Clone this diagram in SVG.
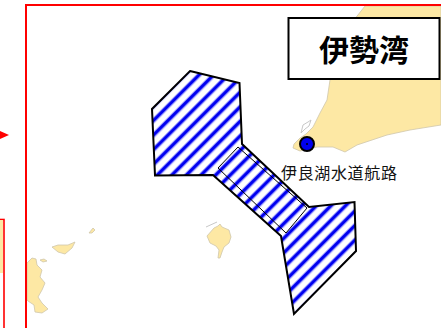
<svg xmlns="http://www.w3.org/2000/svg" width="441" height="328" viewBox="0 0 441 328">
<style>
.land{fill:#fde8a4;stroke:#cfc7ac;stroke-width:.8;stroke-linejoin:round}
.shore{fill:#fff;stroke:#c8c8c8;stroke-width:1}
.jp{font-family:"Noto Sans CJK JP","Liberation Sans",sans-serif}
</style>
<defs>
<pattern id="st" width="10.32" height="10.32" patternUnits="userSpaceOnUse" patternTransform="translate(155 115.460) rotate(-45)">
<rect width="10.32" height="10.32" fill="#fff"/>
<rect y="0" width="10.32" height="5" fill="#a8a8ff"/>
<rect y="1" width="10.32" height="3" fill="#0000f0"/>
</pattern>
</defs>
<rect width="441" height="328" fill="#fff"/>
<g id="land">
<path class="land" d="M365 6H441V125L410 130L387 135L357 145L345 152L333 147L317 147L300 151L293 148L294 144L300 138L306 134L313 127L320 113L327 100L330 80L350 25Z"/>
<path class="shore" d="M301 133L303 125L308 122L311 120L309 126L305 129Z"/>
<path class="land" d="M214 228L218 226L220 224L222 227L229 230L231 237L229 243L224 247L222 252L220 258L218 258L219 250L216 246L210 243L207 236Z"/>
<path class="shore" d="M206 227L217 222" style="fill:none"/>
<path class="land" d="M52 247L58 245L68 245L75 242L72 248L65 254L58 252Z"/>
<path class="land" d="M89 233L93 228L95 230L92 233Z"/>
<path class="land" d="M27 263L32 258L36 259L37 265L42 270L40 277L45 283L42 290L38 297L42 303L48 309L42 313L35 312L34 305L28 301L27 300Z"/>
<path class="land" d="M40 260L44 259L47 261L43 262Z"/>
</g>
<g id="left-box">
<rect x="-6" y="219.500" width="10" height="120" fill="#fff" stroke="#f00" stroke-width="1.600"/>
<rect x="0" y="220" width="3" height="53" fill="#fde8a4"/>
<path d="M0 131L9 135L0 139Z" fill="#f00"/>
</g>
<rect id="frame" x="26" y="5" width="420" height="330" fill="none" stroke="#f00" stroke-width="2"/>
<g id="area">
<path d="M190 71L239.500 83L242 144L309 207L354.500 202L356 251L294 314L281 236L213 175L155 175.500L152 109Z" fill="url(#st)" stroke="#000" stroke-width="2"/>
<path d="M238 147L218 168L286 233L307 208Z" fill="none" stroke="#000" stroke-width="1"/>
</g>
<g id="port">
<circle cx="307" cy="144" r="7" fill="#0000f0" stroke="#000" stroke-width="2"/>
<circle cx="307" cy="144" r="1" fill="#000"/>
</g>
<g id="title">
<rect x="288.500" y="18" width="151" height="61" fill="#fff" stroke="#000" stroke-width="2"/>
<text class="jp" x="364" y="61" font-size="30" font-weight="700" text-anchor="middle">伊勢湾</text>
</g>
<text id="label" class="jp" x="281" y="179" font-size="16" letter-spacing=".65" fill="#111">伊良湖水道航路</text>
</svg>
